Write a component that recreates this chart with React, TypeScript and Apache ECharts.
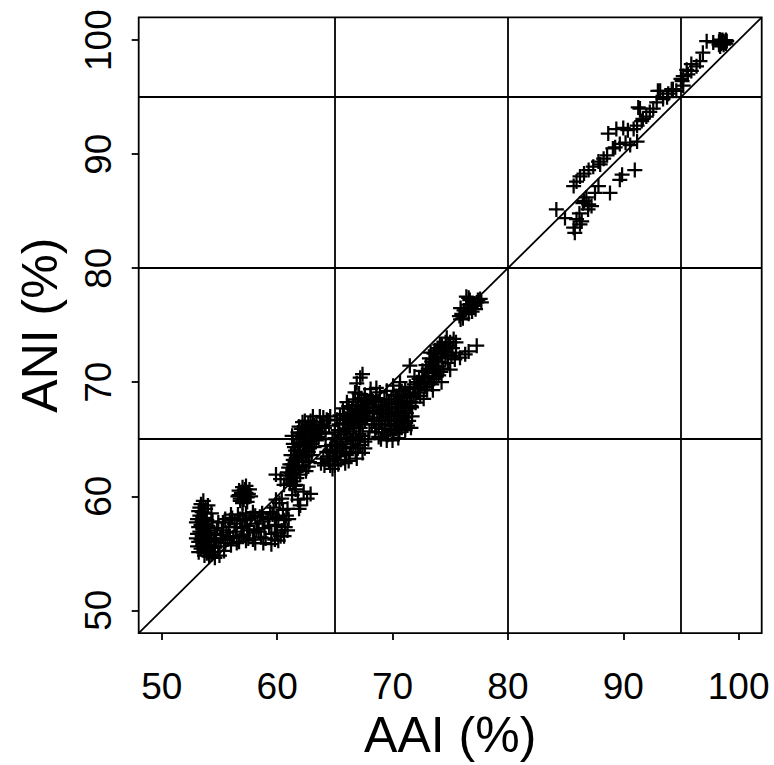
import React, { useEffect, useRef } from "react";
import * as echarts from "echarts";

const xTicks = [50, 60, 70, 80, 90, 100];
const yTicks = [50, 60, 70, 80, 90, 100];
const axisMin = 48;
const axisMax = 102;
const refLines = [65, 80, 95];
const diagonalLine = [
  [48, 48],
  [102, 102],
];

const lowLeftBlob = [
  [53.4, 59.3], [53.2, 58.7], [53.7, 58.5], [53.1, 58.0], [53.5, 57.8], [53.9, 57.9],
  [53.2, 57.3], [53.6, 57.1], [54.0, 57.4], [53.1, 56.7], [53.5, 56.5], [53.9, 56.6],
  [53.2, 56.0], [53.6, 55.9], [54.1, 56.0], [53.4, 55.4], [53.8, 55.3], [54.2, 55.5],
  [53.7, 54.8], [54.1, 54.7], [54.5, 55.1], [53.8, 58.9], [53.3, 59.0],
  [53.3, 58.3], [53.7, 58.1], [53.4, 57.5], [53.8, 57.6], [53.3, 56.9], [53.7, 56.9],
  [54.1, 56.8], [53.4, 56.2], [53.8, 56.2], [54.3, 56.3], [53.6, 55.6], [54.0, 55.7],
  [53.9, 55.0], [54.3, 54.9], [53.5, 58.6], [54.2, 57.0],
  [53.0, 57.7], [53.0, 56.3], [53.1, 55.6], [54.4, 57.8], [54.3, 58.5], [54.0, 59.2],
  [53.6, 59.6], [54.5, 56.0], [53.2, 55.1], [54.6, 54.6],
];

const lowBand = [
  [54.8, 57.2], [55.1, 56.3], [55.3, 57.7], [55.6, 56.8], [55.9, 57.9], [56.2, 56.4],
  [56.5, 57.3], [56.8, 58.0], [57.1, 56.6], [57.4, 57.4], [57.7, 58.1], [58.0, 56.8],
  [58.3, 57.6], [58.6, 56.4], [58.9, 57.2], [59.2, 58.0], [59.5, 56.7], [59.8, 57.5],
  [60.1, 58.2], [60.4, 57.0], [60.6, 57.9], [60.5, 58.8], [59.7, 59.0], [60.2, 59.4],
  [54.9, 55.6], [55.5, 55.9], [54.7, 56.1], [56.0, 55.7], [57.0, 58.3], [58.5, 58.2],
  [57.9, 56.2], [59.0, 56.3], [60.3, 56.5], [56.1, 58.1], [56.7, 56.0], [57.6, 57.0],
  [58.2, 57.1], [59.8, 56.2], [55.0, 54.8], [55.4, 55.2],
  [55.2, 57.0], [55.8, 57.3], [56.4, 56.9], [57.0, 57.2], [57.5, 56.3], [58.1, 58.3],
  [58.8, 57.8], [59.3, 57.4], [59.9, 58.0], [60.7, 57.3], [55.7, 56.2], [56.3, 57.6],
  [57.2, 57.9], [58.4, 56.9], [59.6, 58.4], [60.0, 56.8], [60.8, 58.3], [55.3, 56.6],
  [54.6, 56.7], [56.9, 56.5],
  [54.9, 57.7], [55.5, 58.0], [56.0, 58.4], [56.6, 58.4], [57.3, 58.5], [57.9, 58.6],
  [58.7, 58.5], [59.4, 58.6], [55.9, 56.5], [56.5, 55.9], [57.3, 56.1], [58.1, 55.9],
  [58.8, 55.9], [59.5, 55.8], [60.1, 56.1], [60.6, 56.5], [60.9, 57.0], [61.0, 58.0],
  [60.9, 58.9], [60.4, 59.8], [59.9, 59.7], [54.6, 55.5],
];

const lowRound = [
  [56.8, 59.8], [57.1, 59.7], [57.4, 59.9], [56.9, 60.3], [57.3, 60.3], [57.0, 60.8],
  [57.2, 60.6], [57.5, 60.2], [56.7, 60.1], [56.7, 60.5], [57.6, 60.6], [57.0, 60.1],
  [57.3, 60.9], [56.8, 59.6], [57.4, 59.5], [57.0, 59.4], [56.6, 60.0], [57.7, 60.0],
];

const lowPlus = [
  [61.3, 60.1], [61.8, 59.7], [62.3, 60.4], [62.0, 59.2], [62.6, 59.8], [61.6, 60.6],
  [62.9, 60.2], [61.9, 58.9], [60.3, 61.5], [59.9, 61.9], [60.6, 61.0],
];

const midA = [
  [61.0, 61.5], [61.4, 61.3], [61.2, 62.0], [61.6, 62.3], [62.0, 61.9], [61.3, 62.8],
  [61.8, 63.0], [62.2, 62.7], [61.5, 63.6], [62.0, 63.8], [62.5, 63.5], [61.5, 64.3],
  [61.9, 64.4], [62.4, 64.5], [62.8, 64.2], [61.7, 65.0], [62.2, 65.2], [62.6, 65.3],
  [63.1, 65.0], [62.1, 65.9], [62.5, 66.0], [63.0, 65.9], [63.5, 65.7], [62.9, 66.6],
  [63.4, 66.5], [63.9, 66.3], [64.3, 66.7], [64.5, 66.2], [63.7, 67.0], [62.4, 66.6],
  [61.1, 62.8], [61.2, 63.6], [63.2, 64.3], [62.7, 62.6], [60.9, 62.1],
  [61.3, 61.8], [61.7, 61.6], [61.5, 62.6], [61.9, 62.5], [62.3, 63.1], [61.7, 63.3],
  [62.2, 63.4], [61.8, 64.0], [62.3, 64.0], [62.7, 63.9], [62.0, 64.7], [62.5, 64.8],
  [63.0, 64.6], [62.0, 65.5], [62.4, 65.6], [62.8, 65.7], [63.3, 65.4], [63.2, 66.2],
  [63.7, 66.0], [64.1, 66.0], [64.0, 66.9], [62.7, 66.3], [61.4, 64.6], [63.4, 64.9],
  [61.1, 61.1], [61.6, 61.0], [61.0, 62.5], [61.4, 63.2], [62.5, 62.2], [62.8, 63.0],
  [63.0, 63.6], [62.9, 64.9], [63.6, 65.2], [61.6, 64.0], [61.3, 65.3], [61.8, 65.6],
  [61.9, 66.1], [63.8, 65.6], [64.2, 65.5], [64.6, 67.0], [63.1, 67.0], [62.2, 66.5],
  [60.8, 61.8], [61.5, 60.9],
];

const midB = [
  [64.0, 63.3], [64.5, 63.1], [64.3, 63.9], [64.8, 63.8], [65.2, 63.5], [64.7, 64.5],
  [65.2, 64.4], [65.7, 64.2], [65.0, 65.1], [65.5, 65.0], [66.0, 64.8], [66.4, 64.3],
  [66.8, 63.9], [67.2, 64.5], [66.0, 63.6], [65.5, 63.2], [65.3, 65.8], [65.8, 65.7],
  [66.3, 65.5], [66.8, 65.2], [67.4, 65.3], [65.7, 66.4], [66.2, 66.3], [66.7, 66.2],
  [67.2, 66.0], [66.1, 67.0], [66.6, 67.0], [67.1, 66.8], [67.6, 66.7], [66.5, 67.7],
  [67.0, 67.6], [67.5, 67.5], [68.0, 67.3], [67.0, 68.3], [67.5, 68.2], [68.0, 68.1],
  [68.5, 67.8], [67.6, 68.9], [68.1, 68.8], [68.6, 68.6], [68.9, 69.1], [64.6, 62.7],
  [65.9, 62.9], [67.6, 64.8],
  [67.4, 70.7], [66.9, 69.9], [66.75, 69.1], [66.05, 68.25], [65.7, 67.7], [65.45, 67.1],
  [64.4, 66.65], [67.2, 70.4],
  [64.4, 63.5], [64.9, 63.3], [64.6, 64.1], [65.0, 64.0], [65.4, 63.8], [65.9, 63.9],
  [66.3, 63.8], [66.6, 64.6], [67.0, 64.2], [65.2, 64.8], [65.6, 64.6], [66.1, 65.1],
  [66.5, 64.9], [67.0, 64.9], [65.5, 65.4], [66.0, 65.9], [66.6, 65.7], [67.1, 65.5],
  [65.9, 66.8], [66.4, 66.6], [66.9, 66.5], [67.4, 66.3], [66.3, 67.3], [66.8, 67.3],
  [67.3, 67.1], [67.8, 67.0], [66.8, 68.0], [67.3, 67.9], [67.8, 67.7], [68.3, 67.5],
  [67.3, 68.6], [67.8, 68.4], [68.3, 68.3], [68.8, 68.3], [64.2, 64.4], [64.8, 65.0],
  [63.8, 62.9], [64.1, 62.7], [65.0, 62.7], [65.3, 62.8], [66.2, 63.1], [66.9, 63.3],
  [67.4, 63.8], [67.6, 64.2], [67.9, 65.0], [68.0, 65.7], [68.2, 66.3], [68.4, 66.8],
  [68.7, 67.3], [69.0, 67.6], [65.0, 65.6], [65.4, 66.3], [65.2, 66.7], [65.8, 67.2],
  [66.2, 67.9], [66.6, 68.5], [67.1, 69.0], [68.1, 69.4], [68.6, 69.5], [66.3, 66.0],
  [66.7, 66.9], [67.2, 67.3], [67.7, 67.4], [68.2, 68.5], [64.8, 62.4],
];

const midC = [
  [68.6, 66.0], [69.1, 65.6], [69.6, 65.4], [70.1, 65.5], [70.6, 65.6], [71.1, 65.8],
  [68.9, 66.6], [69.4, 66.3], [69.9, 66.2], [70.4, 66.3], [70.9, 66.4], [71.4, 66.6],
  [69.2, 67.2], [69.7, 67.0], [70.2, 67.0], [70.7, 67.1], [71.2, 67.3], [69.5, 67.8],
  [70.0, 67.7], [70.5, 67.8], [71.0, 68.0], [69.9, 68.5], [70.4, 68.5], [69.0, 68.0],
  [70.8, 69.2], [68.8, 65.2], [70.0, 64.9],
  [68.8, 66.3], [69.3, 65.9], [69.8, 65.8], [70.3, 65.9], [70.8, 66.0], [71.3, 66.2],
  [69.1, 66.9], [69.6, 66.7], [70.1, 66.6], [70.6, 66.7], [71.1, 66.9], [69.4, 67.5],
  [69.9, 67.3], [70.4, 67.4], [70.9, 67.5], [71.4, 67.7], [69.7, 68.2], [70.2, 68.1],
  [70.7, 68.3], [69.3, 68.5],
  [68.5, 65.6], [69.0, 65.0], [69.5, 64.9], [70.5, 65.1], [71.6, 66.0], [71.7, 67.0],
  [71.6, 67.9], [68.7, 67.3], [68.4, 66.6], [69.1, 67.9], [70.1, 68.9], [70.6, 68.8],
  [71.2, 68.3],
];

const midD = [
  [72.9, 70.9], [73.3, 71.5], [73.7, 71.1], [73.5, 72.0], [73.9, 71.8], [74.3, 72.2],
  [74.0, 72.6], [74.5, 72.9], [74.9, 73.2], [75.3, 73.8], [74.6, 73.5], [75.2, 73.0],
  [74.8, 72.4], [73.6, 72.5], [73.1, 70.5], [72.6, 71.0], [73.9, 73.0], [72.3, 70.3],
  [71.9, 69.8], [72.2, 69.4], [71.5, 69.0], [71.0, 68.6], [71.6, 68.3], [72.4, 68.8],
  [72.8, 69.6], [73.2, 70.0], [73.6, 70.3], [74.0, 70.6], [74.4, 71.2], [71.65, 67.8],
  [72.7, 68.55], [73.5, 69.3], [74.25, 70.0], [75.0, 71.1], [75.85, 72.15], [76.6, 72.7],
  [77.3, 73.2], [76.3, 72.45], [70.05, 69.7], [71.5, 71.45], [69.5, 69.25], [70.65, 70.0],
  [72.0, 68.2], [70.3, 68.8], [70.9, 68.1], [71.5, 69.6],
  [73.1, 71.2], [73.5, 71.4], [73.4, 71.8], [73.8, 72.2], [74.2, 72.5], [74.6, 72.7],
  [75.0, 73.5], [74.3, 73.2], [73.7, 72.8], [72.8, 70.5], [72.5, 69.9], [72.0, 69.1],
  [73.0, 69.3], [73.4, 69.8], [73.8, 70.5], [74.2, 70.9], [72.1, 70.0], [71.3, 68.8],
  [71.8, 68.7],
  [72.6, 70.4], [72.9, 71.5], [73.2, 72.1], [73.3, 72.6], [73.9, 72.6], [74.1, 73.3],
  [74.7, 73.9], [75.5, 73.5], [75.5, 72.6], [75.1, 72.3], [74.6, 72.1], [74.0, 71.4],
  [73.5, 70.8], [72.4, 69.6], [72.7, 70.1], [71.9, 70.5], [71.1, 69.4], [70.6, 69.3],
  [74.8, 71.7], [75.4, 72.0],
];

const midE = [
  [75.8, 75.8], [76.2, 76.3], [76.6, 76.0], [76.1, 75.6], [76.5, 76.8], [77.0, 76.7],
  [76.9, 76.2], [77.3, 77.0], [77.6, 77.3], [76.7, 77.2], [75.9, 76.5], [77.2, 76.4],
  [76.4, 77.5], [77.7, 77.0], [76.0, 76.0], [76.4, 76.5], [76.8, 76.5], [77.1, 76.9],
  [76.6, 77.4], [75.9, 75.5], [77.4, 77.2],
];

const highChain = [
  [84.2, 85.15], [84.95, 84.4], [85.95, 84.3], [86.25, 83.85], [85.7, 83.55], [85.8, 83.1],
  [86.4, 84.1], [86.5, 85.7], [86.8, 86.2], [87.25, 85.45], [86.95, 85.15], [87.55, 86.6],
  [88.85, 86.6], [87.85, 87.2], [89.7, 87.75], [89.9, 88.2], [91.0, 88.6], [85.7, 87.2],
  [85.95, 87.6], [86.25, 88.05], [87.0, 88.6], [87.4, 88.9], [87.85, 89.35], [88.6, 89.9],
  [89.1, 90.5], [89.7, 90.9], [90.6, 90.8], [91.2, 91.1], [88.7, 91.8], [89.4, 92.2],
  [90.4, 92.1], [90.9, 92.2], [91.2, 92.5], [91.7, 93.1], [92.3, 93.7], [91.3, 94.1],
  [93.0, 95.55], [94.2, 95.7], [91.45, 94.0], [92.9, 94.55], [93.45, 94.83], [93.8, 95.0],
  [93.2, 95.55], [94.3, 95.7], [94.6, 95.55], [95.1, 96.4], [95.2, 96.0], [95.2, 96.85],
  [95.6, 97.0], [95.5, 97.4], [95.9, 97.3], [95.9, 97.9], [96.35, 97.7], [96.65, 98.15],
  [96.9, 98.9], [90.0, 92.3], [90.2, 91.0], [89.3, 90.6], [88.3, 89.6], [88.0, 89.1],
  [86.6, 88.3], [91.6, 92.9], [92.0, 93.3], [92.6, 94.0], [93.9, 95.3], [95.0, 96.6],
  [86.6, 85.9], [87.0, 85.6], [86.2, 84.8],
];

const topSquare = [
  [97.23, 99.9], [97.8, 99.8], [98.3, 99.85], [98.4, 100.0], [98.5, 99.7], [98.6, 100.0],
  [98.7, 99.9], [98.8, 99.8], [98.9, 99.7], [98.97, 99.9], [98.4, 99.45],
  [98.3, 99.6], [98.5, 99.95], [98.7, 99.6], [98.9, 100.0], [98.35, 100.05], [98.6, 99.8],
];

const allPoints = [
  ...lowLeftBlob, ...lowBand, ...lowRound, ...lowPlus, ...midA, ...midB,
  ...midC, ...midD, ...midE, ...highChain, ...topSquare,
];

const crossPath =
  "path://M-0.15,-1 L0.15,-1 L0.15,-0.15 L1,-0.15 L1,0.15 L0.15,0.15 L0.15,1 L-0.15,1 L-0.15,0.15 L-1,0.15 L-1,-0.15 L-0.15,-0.15 Z";

const FONT = "'Liberation Sans', Arial, Helvetica, sans-serif";

export default function App() {
  const ref = useRef<HTMLDivElement>(null);

  useEffect(() => {
    if (!ref.current) return;
    const chart = echarts.init(ref.current, null, { renderer: "svg" });
    const lineStyle = { color: "#000", width: 1.8, type: "solid" as const, opacity: 1 };
    const option = {
      animation: false,
      backgroundColor: "#fff",
      grid: {
        left: 138.7,
        top: 17.3,
        width: 623,
        height: 623,
        show: true,
        borderColor: "#000",
        borderWidth: 1.8,
        backgroundColor: "transparent",
        containLabel: false,
      },
      xAxis: {
        type: "value",
        min: axisMin,
        max: axisMax,
        name: "AAI (%)",
        nameLocation: "middle",
        nameGap: 74,
        nameTextStyle: { fontFamily: FONT, fontSize: 50, color: "#000" },
        axisLine: { show: false },
        splitLine: { show: false },
        axisTick: {
          show: true,
          inside: false,
          length: 7,
          lineStyle: { color: "#000", width: 1.8 },
          customValues: xTicks,
        },
        axisLabel: {
          margin: 35,
          fontFamily: FONT,
          fontSize: 37,
          color: "#000",
          customValues: xTicks,
        },
      },
      yAxis: {
        type: "value",
        min: axisMin,
        max: axisMax,
        name: "ANI (%)",
        nameLocation: "middle",
        nameGap: 74,
        nameTextStyle: { fontFamily: FONT, fontSize: 50, color: "#000" },
        axisLine: { show: false },
        splitLine: { show: false },
        axisTick: {
          show: true,
          inside: false,
          length: 7,
          lineStyle: { color: "#000", width: 1.8 },
          customValues: yTicks,
        },
        axisLabel: {
          margin: 22,
          rotate: 90,
          fontFamily: FONT,
          fontSize: 37,
          color: "#000",
          customValues: yTicks,
        },
      },
      series: [
        {
          type: "scatter",
          data: allPoints,
          symbol: crossPath,
          symbolSize: 15,
          itemStyle: { color: "#000", opacity: 1 },
          silent: true,
          markLine: {
            silent: true,
            symbol: "none",
            label: { show: false },
            lineStyle,
            data: [
              ...refLines.map((v) => ({ xAxis: v })),
              ...refLines.map((v) => ({ yAxis: v })),
              [
                { coord: diagonalLine[0] },
                { coord: diagonalLine[1] },
              ],
            ],
          },
        },
      ],
    };
    chart.setOption(option as any);
    return () => chart.dispose();
  }, []);

  return (
    <div
      ref={ref}
      style={{ position: "fixed", left: 0, top: 0, width: 774, height: 765 }}
    />
  );
}
